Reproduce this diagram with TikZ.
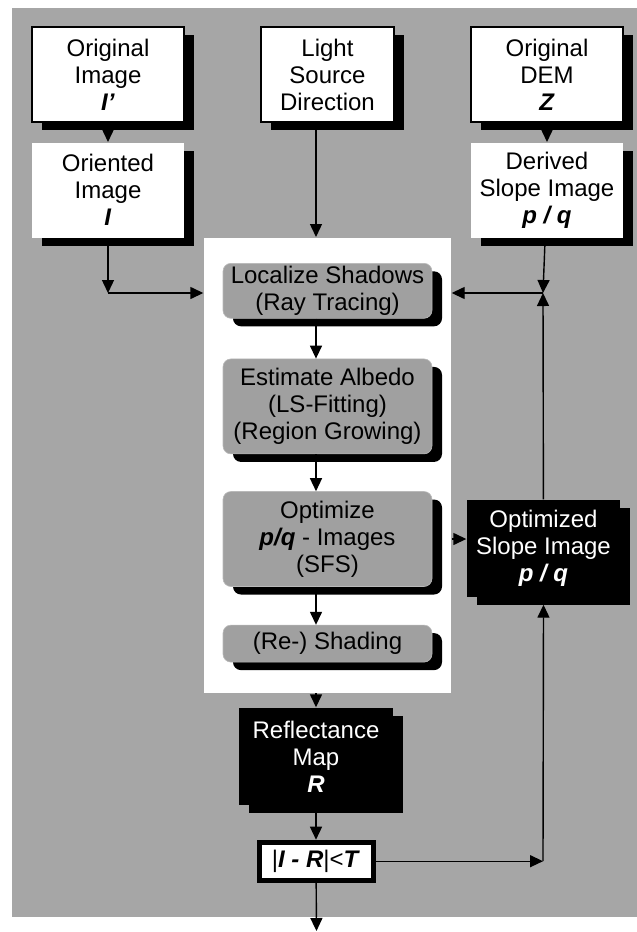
\documentclass[tikz,border=0pt]{standalone}
\usepackage{fontspec}
\setmainfont{Liberation Sans}
\usetikzlibrary{arrows.meta,positioning,shadows}
\definecolor{bggray}{RGB}{166,166,166}
\definecolor{stepgray}{RGB}{160,160,160}

\begin{document}
\begin{tikzpicture}[x=1pt,y=-1pt,font=\fontsize{24}{27}\selectfont,
    >={Triangle[length=13pt,width=12pt]},line width=1.4pt,
    blackshadow/.style={drop shadow={shadow xshift=10pt,shadow yshift=-8pt,fill=black,opacity=1}},
    inbox/.style={draw,line width=2pt,fill=white,blackshadow,align=center,inner sep=0pt,minimum height=95pt},
    midbox/.style={fill=white,blackshadow,align=center,inner sep=0pt,minimum width=152pt,minimum height=95pt},
    stepbox/.style={fill=stepgray,draw=gray!55,line width=0.6pt,rounded corners=8pt,blackshadow,align=center,inner sep=0pt,minimum width=209pt},
    outbox/.style={fill=black,text=white,blackshadow,align=center,inner sep=0pt,minimum width=153pt,minimum height=97pt},
    testbox/.style={draw,line width=5pt,fill=white,inner sep=0pt,minimum width=114pt,minimum height=38pt}]
    \useasboundingbox (0,0) rectangle (637,932);
    \fill[bggray] (12,8) rectangle (637,917);

    \node (origimg) [inbox,minimum width=152pt] at (108,74.5) {Original\\Image\\\textbf{\textit{I’}}};
    \node (light) [inbox,minimum width=133pt,right=75pt of origimg] {Light\\Source\\Direction};
    \node (dem) [inbox,minimum width=152pt,right=75pt of light] {Original\\DEM\\\textbf{\textit{Z}}};
    \node (orimg) [midbox,below=19pt of origimg] {Oriented\\Image\\\textbf{\textit{I}}};
    \node (derived) [midbox,below=19pt of dem] {Derived\\Slope Image\\\textbf{\textit{p / q}}};

    \node (panel) [fill=white,minimum width=247pt,minimum height=455pt,below=114pt of light] {};
    \node (loc) [stepbox,minimum height=55pt,below=26pt of panel.north] {Localize Shadows\\(Ray Tracing)};
    \node (alb) [stepbox,minimum height=95pt,below=40pt of loc] {Estimate Albedo\\(LS-Fitting)\\(Region Growing)};
    \node (opt) [stepbox,minimum height=95pt,below=37pt of alb] {Optimize\\\textbf{\textit{p/q}} - Images\\(SFS)};
    \node (reshade) [stepbox,minimum height=37pt,below=38pt of opt] {(Re-) Shading};

    \node (optslope) [outbox] at (543.5,548.5) {Optimized\\Slope Image\\\textbf{\textit{p / q}}};
    \node (refl) [outbox,minimum width=154pt] at (316,756.5) {Reflectance\\Map\\\textbf{\textit{R}}};
    \node (test) [testbox,below=34pt of refl] {|\textbf{\textit{I - R}}|<\textbf{\textit{T}}};

    \coordinate (axis) at (316,0);
    \coordinate (jl) at (108,293);
    \coordinate (jr) at (543,293);
    \coordinate (out) at (316.5,931);

    \draw[->] (origimg) -- (orimg);
    \draw[->] (dem) -- (derived);
    \draw[->] (light.south -| axis) -- (panel.north -| axis);
    \draw[->] (orimg) -- (jl);
    \draw[->] (jl) -- (jl -| panel.west);
    \draw[->] (derived) -- (jr);
    \draw[->] (optslope) -- (jr);
    \draw[->] (jr) -- (jr -| panel.east);
    \draw[->] (loc.south -| axis) -- (alb.north -| axis);
    \draw[->] (alb.south -| axis) -- (opt.north -| axis);
    \draw[->] (opt.south -| axis) -- (reshade.north -| axis);
    \draw[->] (opt.east -| panel.east) -- (opt.east -| optslope.west);
    \draw[->] (panel.south -| refl) -- (refl);
    \draw[->] (refl) -- (test);
    \draw[->] (test) -- (test -| jr);
    \draw[->] (test -| jr) -- ([yshift=-7pt]optslope.south);
    \draw[->] (test) -- (out);
  \end{tikzpicture}
\end{document}
